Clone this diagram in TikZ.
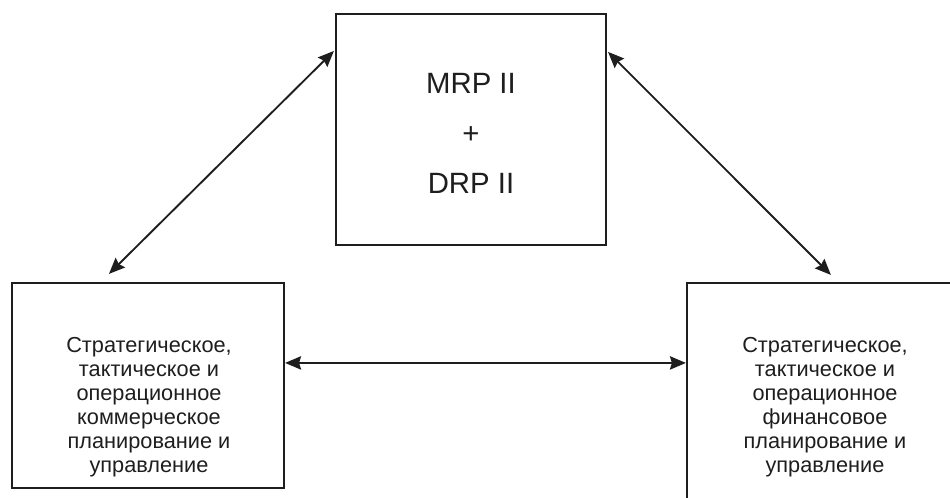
\documentclass[tikz,border=0pt]{standalone}
\usepackage{fontspec}
\setmainfont{Liberation Sans}
\usetikzlibrary{arrows.meta,calc}
\definecolor{ink}{HTML}{1E1E1E}
\begin{document}
\begin{tikzpicture}[x=0.75pt,y=-0.75pt,
  box/.style={draw=ink,line width=1.6pt,inner sep=0pt,fill=white},
  boxtext/.style={align=center,text=ink,font=\fontsize{16.3pt}{18pt}\selectfont},
  link/.style={draw=ink,line width=1.4pt,{Stealth[length=12pt,width=10pt,inset=1.5pt]}-{Stealth[length=12pt,width=10pt,inset=1.5pt]}}]
  \clip (0,0) rectangle (950,498);
  \fill[white] (0,0) rectangle (950,498);

  % three blocks
  \node[box,minimum width=270*0.75pt,minimum height=231*0.75pt] (top) at (471,129.5) {};
  \node[box,minimum width=272*0.75pt,minimum height=205*0.75pt] (left) at (148,385.5) {};
  \node[box,minimum width=278*0.75pt,minimum height=230*0.75pt] (right) at (826,398) {};

  % block texts
  \node[align=center,text=ink,font=\fontsize{22pt}{37.5pt}\selectfont] (toptext) at (471,133) {MRP II\\+\\DRP II};
  \node[boxtext] (lefttext) at (149,407) {Стратегическое,\\тактическое и\\операционное\\коммерческое\\планирование и\\управление};
  \node[boxtext] (righttext) at (825,407) {Стратегическое,\\тактическое и\\операционное\\финансовое\\планирование и\\управление};

  % two-way links
  \draw[link] ($(top.north west)+(-1,38)$) -- ($(left.north west)+(98,-8)$);
  \draw[link] ($(top.north east)+(1,39)$) -- ($(right.north west)+(145,-7)$);
  \draw[link] ($(left.north east)+(0,81)$) -- ($(right.north west)+(0,81)$);
\end{tikzpicture}
\end{document}
